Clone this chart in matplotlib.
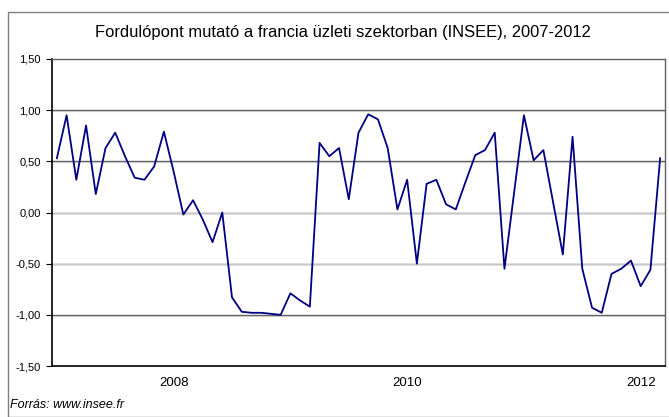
import matplotlib
matplotlib.use("Agg")
import matplotlib.pyplot as plt
from matplotlib.patches import Rectangle

# havi adatok 2007 jan - 2012 marc
values = [0.53, 0.95, 0.32, 0.85, 0.18, 0.63, 0.78, 0.55, 0.34, 0.32,
          0.45, 0.79, 0.40, -0.02, 0.12, -0.07, -0.29, 0.00, -0.83, -0.97,
          -0.98, -0.98, -0.99, -1.00, -0.79, -0.86, -0.92, 0.68, 0.55, 0.63,
          0.13, 0.78, 0.96, 0.91, 0.63, 0.03, 0.32, -0.50, 0.28, 0.32,
          0.08, 0.03, 0.30, 0.56, 0.61, 0.78, -0.55, 0.20, 0.95, 0.51,
          0.61, 0.10, -0.41, 0.74, -0.55, -0.93, -0.98, -0.60, -0.55, -0.47,
          -0.72, -0.56, 0.53]
year_pos = [12, 36, 60]
year_labels = ["2008", "2010", "2012"]
yticks = [-1.5, -1.0, -0.5, 0.0, 0.5, 1.0, 1.5]

plt.rcParams['font.family'] = ['Liberation Sans', 'DejaVu Sans']

W, H = 669, 417
fig = plt.figure(figsize=(W / 100, H / 100), dpi=100)
fig.patches.append(Rectangle((8 / W, 0), 1, 1 - 12 / H, transform=fig.transFigure,
                             fill=False, edgecolor='#808080', linewidth=1.0))

ax = fig.add_axes([52 / W, 1 - 366 / H, (665 - 52) / W, (366 - 59) / H])
ax.plot(range(len(values)), values, color='#000080', linewidth=1.3, zorder=3)

ax.set_xlim(-0.5, len(values) - 0.5)
ax.set_ylim(-1.5, 1.5)
ax.set_yticks(yticks)
ax.set_yticklabels(["{:.2f}".format(v).replace(".", ",") for v in yticks], fontsize=8)
ax.set_xticks(year_pos)
ax.set_xticklabels(year_labels, fontsize=9.5)
ax.tick_params(axis='x', length=0, pad=8)
ax.tick_params(axis='y', length=4, width=0.8, pad=4)

for v in yticks[1:-1]:
    ax.axhline(v, color='#606060', linewidth=1.0, zorder=1)
    ax.axhline(v - 0.008, color='#c8c8c8', linewidth=0.8, zorder=1)

for s in ['left', 'bottom']:
    ax.spines[s].set_color('black')
    ax.spines[s].set_linewidth(1.2)
for s in ['top', 'right']:
    ax.spines[s].set_color('#606060')
    ax.spines[s].set_linewidth(1.0)

fig.text(343 / W, 1 - 33 / H, "Fordulópont mutató a francia üzleti szektorban (INSEE), 2007-2012",
         ha='center', va='center', fontsize=11.9)
fig.text(10 / W, 1 - 405 / H, "Forrás: www.insee.fr", ha='left', va='center',
         fontsize=9, style='italic')

fig.savefig("out.png", dpi=100)
